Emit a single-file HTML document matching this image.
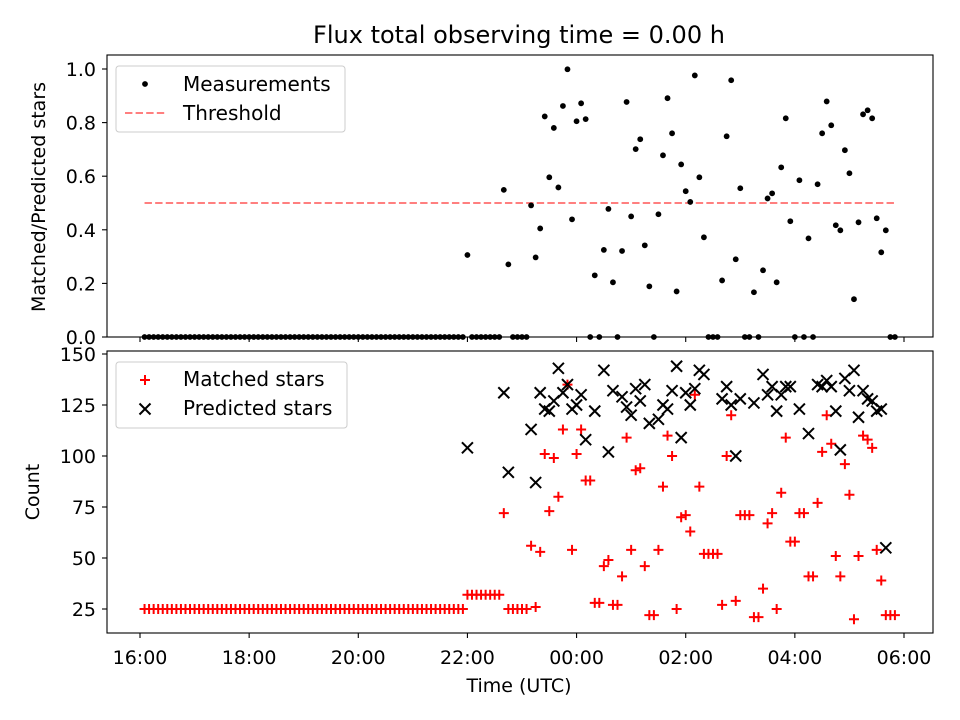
<!DOCTYPE html>
<html><head><meta charset="utf-8"><style>
html,body{margin:0;padding:0;background:#fff;}
svg{display:block;font-family:"DejaVu Sans","Liberation Sans",sans-serif;}
</style></head><body>
<svg id="fig" width="960" height="720" viewBox="0 0 960 720">
<rect width="960" height="720" fill="#fff"/>
<text x="519" y="43" font-size="24" text-anchor="middle">Flux total observing time = 0.00 h</text>
<g id="topPanel"></g>
<g id="botPanel"></g>
<text x="519" y="692" font-size="19" text-anchor="middle">Time (UTC)</text>
<text transform="translate(45,197) rotate(-90)" font-size="19" text-anchor="middle">Matched/Predicted stars</text>
<text transform="translate(39,492) rotate(-90)" font-size="19" text-anchor="middle">Count</text>
</svg>
<script>
// minutes after 16:00 UTC
const times = [5,10,15,20,25,30,35,40,45,50,55,60,65,70,75,80,85,90,95,100,105,110,115,120,125,130,135,140,145,150,155,160,165,170,175,180,185,190,195,200,205,210,215,220,225,230,235,240,245,250,255,260,265,270,275,280,285,290,295,300,305,310,315,320,325,330,335,340,345,350,355,360,365,370,375,380,385,390,395,400,405,410,415,420,425,430,435,440,445,450,455,460,465,470,475,480,485,490,495,500,505,510,515,520,525,530,535,540,545,550,555,560,565,570,575,580,585,590,595,600,605,610,615,620,625,630,635,640,645,650,655,660,665,670,675,680,685,690,695,700,705,710,715,720,725,730,735,740,745,750,755,760,765,770,775,780,785,790,795,800,805,810,815,820,825,830];
const matched = [25,25,25,25,25,25,25,25,25,25,25,25,25,25,25,25,25,25,25,25,25,25,25,25,25,25,25,25,25,25,25,25,25,25,25,25,25,25,25,25,25,25,25,25,25,25,25,25,25,25,25,25,25,25,25,25,25,25,25,25,25,25,25,25,25,25,25,25,25,25,25,32,32,32,32,32,32,32,32,72,25,25,25,25,25,56,26,53,101,73,99,80,113,135,54,101,113,88,88,28,28,46,49,27,27,41,109,54,93,94,46,22,22,54,85,110,100,25,70,71,63,130,85,52,52,52,52,27,100,120,29,71,71,71,21,21,35,67,72,25,82,109,58,58,72,72,41,41,77,102,120,106,51,41,96,81,20,51,110,108,104,54,39,22,22,22];
const ratio = [0,0,0,0,0,0,0,0,0,0,0,0,0,0,0,0,0,0,0,0,0,0,0,0,0,0,0,0,0,0,0,0,0,0,0,0,0,0,0,0,0,0,0,0,0,0,0,0,0,0,0,0,0,0,0,0,0,0,0,0,0,0,0,0,0,0,0,0,0,0,0,0.306,0,0,0,0,0,0,0,0.549,0.271,0,0,0,0,0.491,0.297,0.405,0.823,0.596,0.780,0.558,0.862,0.999,0.439,0.805,0.872,0.813,0,0.230,0,0.325,0.478,0.204,0,0.321,0.877,0.450,0.701,0.738,0.342,0.189,0,0.458,0.678,0.891,0.760,0.170,0.644,0.544,0.504,0.976,0.596,0.372,0,0,0,0.211,0.749,0.958,0.290,0.555,0,0,0.167,0,0.249,0.517,0.536,0.204,0.633,0.816,0.432,0,0.585,0,0.368,0,0.570,0.760,0.879,0.790,0.417,0.398,0.697,0.611,0.141,0.428,0.831,0.846,0.816,0.443,0.316,0.398,0,0];
const predT = [360,400,405,430,435,440,445,450,455,460,465,470,475,480,485,490,500,510,515,520,530,535,540,545,550,555,560,570,575,580,585,590,595,600,605,610,615,620,640,645,650,655,660,675,685,690,695,700,705,710,715,725,735,745,750,755,760,765,770,775,780,785,790,795,800,805,810,815,820];
const predV = [104,131,92,113,87,131,123,122,127,143,131,135,123,125,130,108,122,142,102,132,129,124,120,133,127,135,116,118,125,123,132,144,109,131,125,133,142,140,128,134,125,100,128,126,140,130,134,122,130,134,134,123,111,135,134,137,134,122,103,138,132,142,119,132,128,127,122,123,55];
const threshold = [0.5, 0.5];
const thresholdT = [5, 830];
const xTickMin = [0,120,240,360,480,600,720,840];
const xTickLabels = ["16:00","18:00","20:00","22:00","00:00","02:00","04:00","06:00"];
const topTicks = [0,0.2,0.4,0.6,0.8,1.0];
const topTickLabels = ["0.0","0.2","0.4","0.6","0.8","1.0"];
const botTicks = [25,50,75,100,125,150];
const botTickLabels = ["25","50","75","100","125","150"];

const NS="http://www.w3.org/2000/svg";
const L=107,R=933,T1=55,B1=337,T2=351,B2=633;
const FS=19, LFS=20;
function x(t){return 140+t*(904-140)/840;}
function yTop(v){return 337-v*268;}
function yBot(c){return 609-(c-25)*(609-354)/125;}
function mk(tag,attrs,parent){const e=document.createElementNS(NS,tag);for(const k in attrs)e.setAttribute(k,attrs[k]);parent.appendChild(e);return e;}
const topG=document.getElementById('topPanel'), botG=document.getElementById('botPanel');

const th=mk('line',{x1:x(thresholdT[0]),x2:x(thresholdT[1]),y1:yTop(threshold[0]),y2:yTop(threshold[1]),stroke:'#ff7f7f','stroke-width':2,'stroke-dasharray':'7.4,3.2'},topG);


for(let i=0;i<times.length;i++){
  const c=mk('circle',{cx:x(times[i]),cy:yTop(ratio[i]),r:2.9,fill:'#000'},topG);
  
  
}
for(let i=0;i<times.length;i++){
  const cx=x(times[i]),cy=yBot(matched[i]);
  const g=mk('path',{d:`M${cx-5},${cy}H${cx+5}M${cx},${cy-5}V${cy+5}`,stroke:'#ff0000','stroke-width':2,fill:'none'},botG);
  
  
}
for(let i=0;i<predT.length;i++){
  const cx=x(predT[i]),cy=yBot(predV[i]),s=5.5;
  const g=mk('path',{d:`M${cx-s},${cy-s}L${cx+s},${cy+s}M${cx-s},${cy+s}L${cx+s},${cy-s}`,stroke:'#000','stroke-width':2,fill:'none'},botG);
  
  
}
[[topG,T1,B1],[botG,T2,B2]].forEach(([p,t,b])=>{
  const f=mk('rect',{x:L,y:t,width:R-L,height:b-t,fill:'none',stroke:'#000','stroke-width':1.1},p);
  
  
  xTickMin.forEach(m=>{
    const tk=mk('line',{x1:x(m),x2:x(m),y1:b,y2:b+5,stroke:'#000','stroke-width':1.1},p);
    
    
  });
});
xTickMin.forEach((m,i)=>{
  const tl=mk('text',{x:x(m),y:664,'font-size':FS,'text-anchor':'middle'},botG);
  tl.textContent=xTickLabels[i];
  
  
});
topTicks.forEach((v,i)=>{
  const tk=mk('line',{x1:L-5,x2:L,y1:yTop(v),y2:yTop(v),stroke:'#000','stroke-width':1.1},topG);
  
  
  const tl=mk('text',{x:L-11,y:yTop(v)+7,'font-size':FS,'text-anchor':'end'},topG);
  tl.textContent=topTickLabels[i];
  
  
});
botTicks.forEach((v,i)=>{
  const tk=mk('line',{x1:L-5,x2:L,y1:yBot(v),y2:yBot(v),stroke:'#000','stroke-width':1.1},botG);
  
  
  const tl=mk('text',{x:L-11,y:yBot(v)+7,'font-size':FS,'text-anchor':'end'},botG);
  tl.textContent=botTickLabels[i];
  
  
});
function legend(p,y0,h,w,name){
  const r=mk('rect',{x:116,y:y0,width:w,height:h,rx:3,fill:'#fff','fill-opacity':0.8,stroke:'#ccc','stroke-width':1},p);
  
  
}
legend(topG,66,66,229,'top-legend');
let e=mk('circle',{cx:145,cy:84,r:2.9,fill:'#000'},topG);


e=mk('text',{x:183,y:91,'font-size':LFS},topG);e.textContent='Measurements';


e=mk('line',{x1:125,x2:166,y1:113,y2:113,stroke:'#ff7f7f','stroke-width':2,'stroke-dasharray':'7.4,3.2'},topG);


e=mk('text',{x:183,y:120,'font-size':LFS},topG);e.textContent='Threshold';


legend(botG,362,66,231,'bottom-legend');
e=mk('path',{d:'M140,380H150M145,375V385',stroke:'#f00','stroke-width':2},botG);


e=mk('text',{x:183,y:386,'font-size':LFS},botG);e.textContent='Matched stars';


e=mk('path',{d:'M139.5,403.5L150.5,414.5M139.5,414.5L150.5,403.5',stroke:'#000','stroke-width':2},botG);


e=mk('text',{x:183,y:415,'font-size':LFS},botG);e.textContent='Predicted stars';


</script>
</body></html>
